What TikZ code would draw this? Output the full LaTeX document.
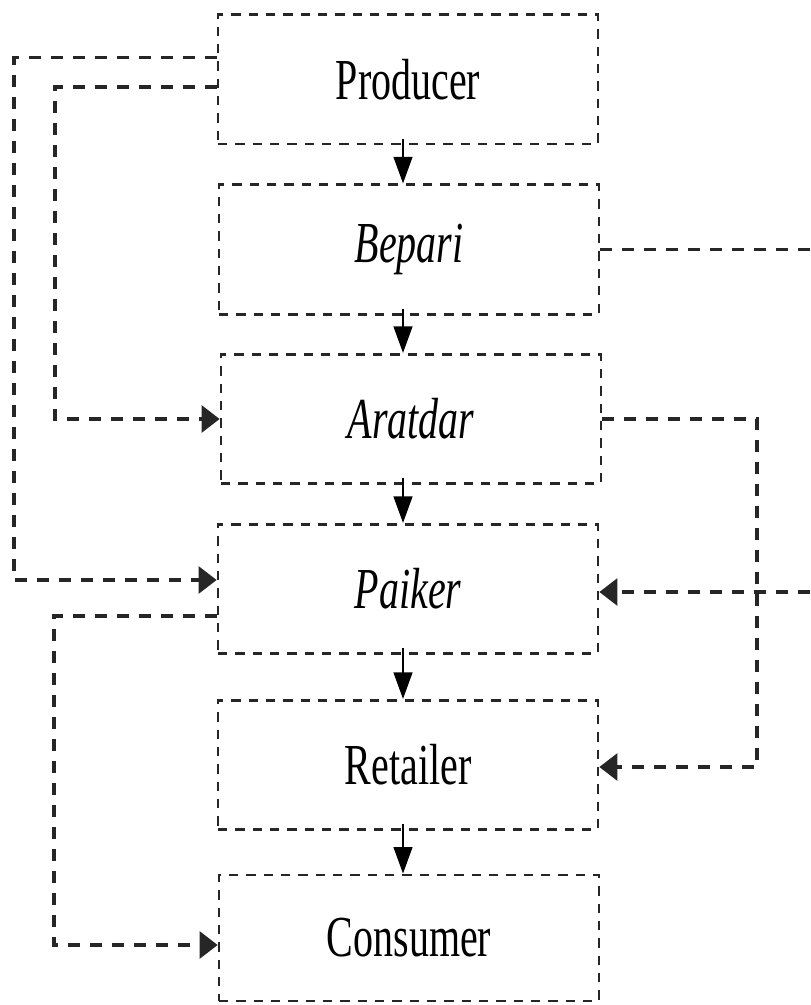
\documentclass[tikz,border=0pt]{standalone}
\usepackage{fontspec}
\setmainfont{Liberation Serif}
\usetikzlibrary{arrows.meta}
\tikzset{
  stage/.style={draw=black!85, line width=2pt, dash pattern=on 7pt off 6pt,
    minimum width=285pt, minimum height=97pt, inner sep=0pt,
    font=\fontsize{30}{36}\selectfont},
  conn/.style={draw=black!85, line width=2.8pt, dash pattern=on 9pt off 7.5pt},
  harrow/.style={-{Triangle[length=13.5pt,width=20pt]}},
  varrow/.style={draw=black, line width=1.8pt, -{Triangle[length=20pt,width=14pt]}},
}
\newcommand{\stx}[1]{\scalebox{1}[1.45]{#1}}
\begin{document}
\begin{tikzpicture}[x=0.75pt,y=-0.75pt]
\useasboundingbox (0,0) rectangle (810,1005);
\node[stage] (prod) at (408,79.5) {\stx{Producer}};
\node[stage] (bep)  at (409,249.5) {\stx{\itshape Bepari}};
\node[stage] (arat) at (411,419) {\stx{\itshape Aratdar}};
\node[stage] (paik) at (408,589) {\stx{\itshape Paiker}};
\node[stage] (ret)  at (408,765) {\stx{Retailer}};
\node[stage, minimum height=94.5pt] (cons) at (409,938) {\stx{Consumer}};
% helper columns
\coordinate (L1) at (14,0);
\coordinate (L2) at (55,0);
\coordinate (L3) at (54,0);
\coordinate (R1) at (757,0);
\coordinate (E)  at (810,0);
\coordinate (AX) at (403,0);
% vertical flow
\draw[varrow] ([yshift=5pt]AX |- prod.south) -- (AX |- bep.north);
\draw[varrow] ([yshift=5pt]AX |- bep.south) -- (AX |- arat.north);
\draw[varrow] ([yshift=5pt]AX |- arat.south) -- (AX |- paik.north);
\draw[varrow] ([yshift=5pt]AX |- paik.south) -- (AX |- ret.north);
\draw[varrow] ([yshift=5pt]AX |- ret.south) -- (AX |- cons.north);
% side routes
\coordinate (a1) at ([yshift=16.5pt]prod.west);
\coordinate (a2) at ([yshift=6.75pt]paik.west);
\draw[conn,harrow] (a1) -- (L1 |- a1) -- (L1 |- a2) -- (a2);
\coordinate (b1) at ([yshift=-5.6pt]prod.west);
\draw[conn,harrow] (b1) -- (L2 |- b1) -- (L2 |- arat.west) -- (arat.west);
\draw[conn] (bep.east) -- (E |- bep.east);
\coordinate (d1) at ([yshift=-2.25pt]paik.east);
\draw[conn,harrow] (E |- d1) -- (d1);
\coordinate (e1) at ([yshift=-1.5pt]ret.east);
\draw[conn,harrow] (arat.east) -- (R1 |- arat.east) -- (R1 |- e1) -- (e1);
\coordinate (f1) at ([yshift=-20.25pt]paik.west);
\coordinate (f2) at ([yshift=-5.25pt]cons.west);
\draw[conn,harrow] (f1) -- (L3 |- f1) -- (L3 |- f2) -- (f2);
\end{tikzpicture}
\end{document}
